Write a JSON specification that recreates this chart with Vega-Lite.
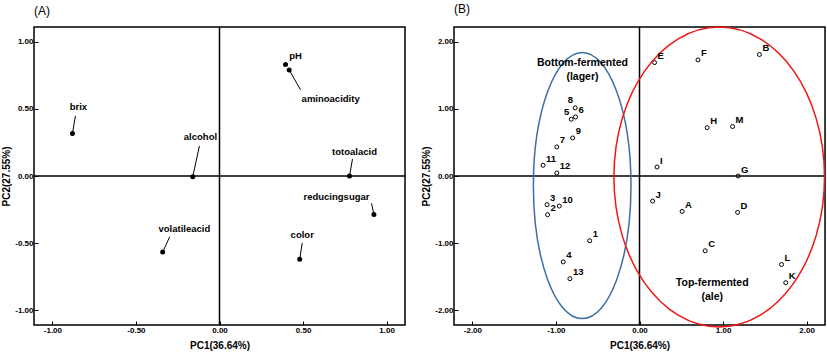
{
  "$schema": "https://vega.github.io/schema/vega-lite/v6.json",
  "padding": {"left": 1, "top": 2, "right": 0, "bottom": 0},
  "spacing": 14,
  "background": "white",
  "config": {
    "view": {"stroke": "black", "strokeWidth": 1.5},
    "font": "Liberation Sans",
    "axis": {"grid": false, "domain": false, "tickColor": "black", "tickSize": -4, "labelPadding": 5, "labelFont": "Liberation Sans", "labelFontSize": 8, "labelFontWeight": "bold", "labelColor": "black", "titleFont": "Liberation Sans", "titleFontSize": 10, "titleFontWeight": "bold", "titleColor": "black"},
    "axisX": {"titlePadding": 6, "labelPadding": 5},
    "axisY": {"titlePadding": 3},
    "title": {"anchor": "start", "frame": "group", "fontSize": 12, "fontWeight": "normal", "font": "Liberation Sans", "offset": 8, "color": "black"}
  },
  "datasets": {
    "zero": [{"zero": 0}],
    "loadings": [
      {"name": "pH", "x": 0.395, "y": 0.83, "lx": 0.455, "ly": 0.896, "ex": null, "ey": null},
      {"name": "aminoacidity", "x": 0.417, "y": 0.79, "lx": 0.665, "ly": 0.577, "ex": 0.485, "ey": 0.642},
      {"name": "brix", "x": -0.88, "y": 0.316, "lx": -0.844, "ly": 0.515, "ex": -0.862, "ey": 0.448},
      {"name": "alcohol", "x": -0.16, "y": -0.005, "lx": -0.114, "ly": 0.291, "ex": -0.12, "ey": 0.224},
      {"name": "totoalacid", "x": 0.778, "y": 0.0, "lx": 0.808, "ly": 0.179, "ex": 0.796, "ey": 0.127},
      {"name": "reducingsugar", "x": 0.924, "y": -0.286, "lx": 0.70, "ly": -0.154, "ex": 0.91, "ey": -0.204},
      {"name": "volatileacid", "x": -0.34, "y": -0.567, "lx": -0.21, "ly": -0.398, "ex": -0.298, "ey": -0.453},
      {"name": "color", "x": 0.48, "y": -0.62, "lx": 0.495, "ly": -0.44, "ex": 0.495, "ey": -0.498}
    ],
    "scores": [
      {"id": "E", "x": 0.18, "y": 1.69}, {"id": "F", "x": 0.70, "y": 1.73}, {"id": "B", "x": 1.435, "y": 1.81},
      {"id": "H", "x": 0.81, "y": 0.72}, {"id": "M", "x": 1.114, "y": 0.737}, {"id": "I", "x": 0.21, "y": 0.134},
      {"id": "G", "x": 1.18, "y": 0.0}, {"id": "J", "x": 0.157, "y": -0.373}, {"id": "A", "x": 0.51, "y": -0.527},
      {"id": "D", "x": 1.174, "y": -0.542}, {"id": "C", "x": 0.786, "y": -1.114}, {"id": "L", "x": 1.70, "y": -1.318},
      {"id": "K", "x": 1.75, "y": -1.59},
      {"id": "8", "x": -0.77, "y": 1.015}, {"id": "5", "x": -0.817, "y": 0.846}, {"id": "6", "x": -0.765, "y": 0.88},
      {"id": "9", "x": -0.80, "y": 0.567}, {"id": "7", "x": -0.99, "y": 0.433}, {"id": "11", "x": -1.154, "y": 0.16},
      {"id": "12", "x": -0.99, "y": 0.045}, {"id": "3", "x": -1.106, "y": -0.427}, {"id": "2", "x": -1.10, "y": -0.577},
      {"id": "10", "x": -0.96, "y": -0.448}, {"id": "1", "x": -0.596, "y": -0.965}, {"id": "4", "x": -0.913, "y": -1.28},
      {"id": "13", "x": -0.833, "y": -1.53}
    ],
    "groups": [
      {"type": "Bottom-fermented (lager)", "cx": -0.686, "cy": -0.143},
      {"type": "Top-fermented (ale)", "cx": 0.954, "cy": -0.015}
    ],
    "notes": [
      {"text": "Bottom-fermented", "x": -0.683, "y": 1.687},
      {"text": "(lager)", "x": -0.683, "y": 1.478},
      {"text": "Top-fermented", "x": 0.87, "y": -1.59},
      {"text": "(ale)", "x": 0.87, "y": -1.80}
    ]
  },
  "hconcat": [
    {
      "width": 371, "height": 298,
      "title": {"text": "(A)"},
      "layer": [
        {
          "data": {"name": "loadings"},
          "mark": {"type": "circle", "color": "black", "opacity": 1, "size": 25},
          "encoding": {
            "x": {"field": "x", "type": "quantitative", "scale": {"domain": [-1.11, 1.11], "nice": false, "zero": false},
                  "axis": {"title": "PC1(36.64%)", "values": [-1, -0.5, 0, 0.5, 1], "format": ".2f", "labelExpr": "replace(datum.label, '\u2212', '-')"}},
            "y": {"field": "y", "type": "quantitative", "scale": {"domain": [-1.11, 1.11], "nice": false, "zero": false},
                  "axis": {"title": "PC2(27.55%)", "values": [-1, -0.5, 0, 0.5, 1], "format": ".2f", "labelExpr": "replace(datum.label, '\u2212', '-')"}}
          }
        },
        {
          "data": {"name": "zero"},
          "mark": {"type": "rule", "stroke": "black", "strokeWidth": 1.5},
          "encoding": {"x": {"field": "zero", "type": "quantitative", "scale": {"domain": [-1.11, 1.11], "nice": false, "zero": false},
                  "axis": {"title": "PC1(36.64%)", "values": [-1, -0.5, 0, 0.5, 1], "format": ".2f", "labelExpr": "replace(datum.label, '\u2212', '-')"}}}
        },
        {
          "data": {"name": "zero"},
          "mark": {"type": "rule", "stroke": "black", "strokeWidth": 1.5},
          "encoding": {"y": {"field": "zero", "type": "quantitative", "scale": {"domain": [-1.11, 1.11], "nice": false, "zero": false},
                  "axis": {"title": "PC2(27.55%)", "values": [-1, -0.5, 0, 0.5, 1], "format": ".2f", "labelExpr": "replace(datum.label, '\u2212', '-')"}}}
        },
        {
          "data": {"name": "loadings"},
          "transform": [{"filter": "isValid(datum.ex)"}],
          "mark": {"type": "rule", "stroke": "black", "strokeWidth": 1},
          "encoding": {
            "x": {"field": "x", "type": "quantitative", "scale": {"domain": [-1.11, 1.11], "nice": false, "zero": false},
                  "axis": {"title": "PC1(36.64%)", "values": [-1, -0.5, 0, 0.5, 1], "format": ".2f", "labelExpr": "replace(datum.label, '\u2212', '-')"}},
            "y": {"field": "y", "type": "quantitative", "scale": {"domain": [-1.11, 1.11], "nice": false, "zero": false},
                  "axis": {"title": "PC2(27.55%)", "values": [-1, -0.5, 0, 0.5, 1], "format": ".2f", "labelExpr": "replace(datum.label, '\u2212', '-')"}},
            "x2": {"field": "ex"},
            "y2": {"field": "ey"}
          }
        },
        {
          "data": {"name": "loadings"},
          "mark": {"type": "text", "font": "Liberation Sans", "fontSize": 9.5, "fontWeight": "bold", "color": "black", "align": "center", "baseline": "middle"},
          "encoding": {
            "x": {"field": "lx", "type": "quantitative", "scale": {"domain": [-1.11, 1.11], "nice": false, "zero": false},
                  "axis": {"title": "PC1(36.64%)", "values": [-1, -0.5, 0, 0.5, 1], "format": ".2f", "labelExpr": "replace(datum.label, '\u2212', '-')"}},
            "y": {"field": "ly", "type": "quantitative", "scale": {"domain": [-1.11, 1.11], "nice": false, "zero": false},
                  "axis": {"title": "PC2(27.55%)", "values": [-1, -0.5, 0, 0.5, 1], "format": ".2f", "labelExpr": "replace(datum.label, '\u2212', '-')"}},
            "text": {"field": "name"}
          }
        }
      ]
    },
    {
      "width": 371, "height": 298,
      "title": {"text": "(B)"},
      "layer": [
        {
          "data": {"name": "scores"},
          "mark": {"type": "point", "shape": "circle", "filled": false, "stroke": "black", "strokeWidth": 1, "opacity": 1, "size": 16},
          "encoding": {
            "x": {"field": "x", "type": "quantitative", "scale": {"domain": [-2.22, 2.22], "nice": false, "zero": false},
                  "axis": {"title": "PC1(36.64%)", "values": [-2, -1, 0, 1, 2], "format": ".2f", "labelExpr": "replace(datum.label, '\u2212', '-')"}},
            "y": {"field": "y", "type": "quantitative", "scale": {"domain": [-2.22, 2.22], "nice": false, "zero": false},
                  "axis": {"title": "PC2(27.55%)", "values": [-2, -1, 0, 1, 2], "format": ".2f", "labelExpr": "replace(datum.label, '\u2212', '-')"}}
          }
        },
        {
          "data": {"name": "zero"},
          "mark": {"type": "rule", "stroke": "black", "strokeWidth": 1.5},
          "encoding": {"x": {"field": "zero", "type": "quantitative", "scale": {"domain": [-2.22, 2.22], "nice": false, "zero": false},
                  "axis": {"title": "PC1(36.64%)", "values": [-2, -1, 0, 1, 2], "format": ".2f", "labelExpr": "replace(datum.label, '\u2212', '-')"}}}
        },
        {
          "data": {"name": "zero"},
          "mark": {"type": "rule", "stroke": "black", "strokeWidth": 1.5},
          "encoding": {"y": {"field": "zero", "type": "quantitative", "scale": {"domain": [-2.22, 2.22], "nice": false, "zero": false},
                  "axis": {"title": "PC2(27.55%)", "values": [-2, -1, 0, 1, 2], "format": ".2f", "labelExpr": "replace(datum.label, '\u2212', '-')"}}}
        },
        {
          "data": {"name": "groups"},
          "transform": [{"filter": "datum.type == 'Bottom-fermented (lager)'"}],
          "mark": {"type": "point", "filled": false, "stroke": "#3b6fa6", "strokeWidth": 1.5, "opacity": 1, "size": 70756, "clip": false,
                   "shape": "M 0.367 0 C 0.367 0.5523 0.2027 1 0 1 C -0.2027 1 -0.367 0.5523 -0.367 0 C -0.367 -0.5523 -0.2027 -1 0 -1 C 0.2027 -1 0.367 -0.5523 0.367 0 Z"},
          "encoding": {
            "x": {"field": "cx", "type": "quantitative", "scale": {"domain": [-2.22, 2.22], "nice": false, "zero": false},
                  "axis": {"title": "PC1(36.64%)", "values": [-2, -1, 0, 1, 2], "format": ".2f", "labelExpr": "replace(datum.label, '\u2212', '-')"}},
            "y": {"field": "cy", "type": "quantitative", "scale": {"domain": [-2.22, 2.22], "nice": false, "zero": false},
                  "axis": {"title": "PC2(27.55%)", "values": [-2, -1, 0, 1, 2], "format": ".2f", "labelExpr": "replace(datum.label, '\u2212', '-')"}}
          }
        },
        {
          "data": {"name": "groups"},
          "transform": [{"filter": "datum.type == 'Top-fermented (ale)'"}],
          "mark": {"type": "point", "filled": false, "stroke": "#f01414", "strokeWidth": 1.5, "opacity": 1, "size": 90000, "clip": false,
                   "shape": "M 0.702 0 C 0.702 0.5523 0.3877 1 0 1 C -0.3877 1 -0.702 0.5523 -0.702 0 C -0.702 -0.5523 -0.3877 -1 0 -1 C 0.3877 -1 0.702 -0.5523 0.702 0 Z"},
          "encoding": {
            "x": {"field": "cx", "type": "quantitative", "scale": {"domain": [-2.22, 2.22], "nice": false, "zero": false},
                  "axis": {"title": "PC1(36.64%)", "values": [-2, -1, 0, 1, 2], "format": ".2f", "labelExpr": "replace(datum.label, '\u2212', '-')"}},
            "y": {"field": "cy", "type": "quantitative", "scale": {"domain": [-2.22, 2.22], "nice": false, "zero": false},
                  "axis": {"title": "PC2(27.55%)", "values": [-2, -1, 0, 1, 2], "format": ".2f", "labelExpr": "replace(datum.label, '\u2212', '-')"}}
          }
        },
        {
          "data": {"name": "scores"},
          "transform": [{"filter": "datum.id != '8' && datum.id != '5'"}],
          "mark": {"type": "text", "font": "Liberation Sans", "fontSize": 9.5, "fontWeight": "bold", "color": "black", "align": "left", "baseline": "middle", "dx": 3, "dy": -6.5},
          "encoding": {
            "x": {"field": "x", "type": "quantitative", "scale": {"domain": [-2.22, 2.22], "nice": false, "zero": false},
                  "axis": {"title": "PC1(36.64%)", "values": [-2, -1, 0, 1, 2], "format": ".2f", "labelExpr": "replace(datum.label, '\u2212', '-')"}},
            "y": {"field": "y", "type": "quantitative", "scale": {"domain": [-2.22, 2.22], "nice": false, "zero": false},
                  "axis": {"title": "PC2(27.55%)", "values": [-2, -1, 0, 1, 2], "format": ".2f", "labelExpr": "replace(datum.label, '\u2212', '-')"}},
            "text": {"field": "id"}
          }
        },
        {
          "data": {"name": "scores"},
          "transform": [{"filter": "datum.id == '8' || datum.id == '5'"}],
          "mark": {"type": "text", "font": "Liberation Sans", "fontSize": 9.5, "fontWeight": "bold", "color": "black", "align": "right", "baseline": "middle", "dx": -2, "dy": -7.5},
          "encoding": {
            "x": {"field": "x", "type": "quantitative", "scale": {"domain": [-2.22, 2.22], "nice": false, "zero": false},
                  "axis": {"title": "PC1(36.64%)", "values": [-2, -1, 0, 1, 2], "format": ".2f", "labelExpr": "replace(datum.label, '\u2212', '-')"}},
            "y": {"field": "y", "type": "quantitative", "scale": {"domain": [-2.22, 2.22], "nice": false, "zero": false},
                  "axis": {"title": "PC2(27.55%)", "values": [-2, -1, 0, 1, 2], "format": ".2f", "labelExpr": "replace(datum.label, '\u2212', '-')"}},
            "text": {"field": "id"}
          }
        },
        {
          "data": {"name": "notes"},
          "mark": {"type": "text", "font": "Liberation Sans", "fontSize": 10.5, "fontWeight": "bold", "color": "black", "align": "center", "baseline": "middle"},
          "encoding": {
            "x": {"field": "x", "type": "quantitative", "scale": {"domain": [-2.22, 2.22], "nice": false, "zero": false},
                  "axis": {"title": "PC1(36.64%)", "values": [-2, -1, 0, 1, 2], "format": ".2f", "labelExpr": "replace(datum.label, '\u2212', '-')"}},
            "y": {"field": "y", "type": "quantitative", "scale": {"domain": [-2.22, 2.22], "nice": false, "zero": false},
                  "axis": {"title": "PC2(27.55%)", "values": [-2, -1, 0, 1, 2], "format": ".2f", "labelExpr": "replace(datum.label, '\u2212', '-')"}},
            "text": {"field": "text"}
          }
        }
      ]
    }
  ]
}
